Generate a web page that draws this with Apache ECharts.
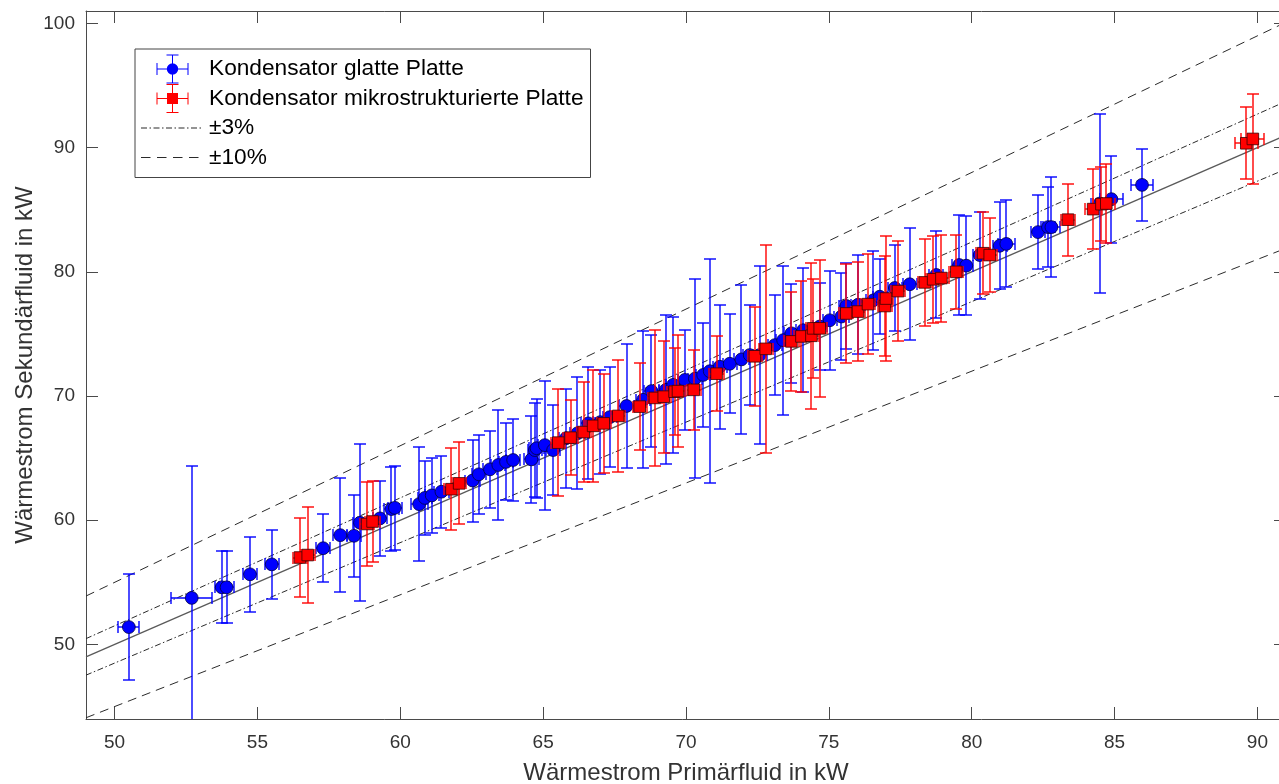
<!DOCTYPE html>
<html>
<head>
<meta charset="utf-8">
<title>Wärmestrom Primär- vs. Sekundärfluid</title>
<script src="https://cdn.jsdelivr.net/npm/echarts@6/dist/echarts.min.js"></script>
<style>
  html, body { margin: 0; padding: 0; background: #fff; }
  #chart { width: 1279px; height: 784px; }
</style>
</head>
<body>
<div id="chart"></div>
<script>
// Kondensator mit glatter Platte: Primär-/Sekundärwärmestrom (kW) und Messunsicherheiten
const glattX = [50.50, 52.70, 53.75, 53.92, 54.74, 55.50, 57.30, 57.90, 58.38, 58.59, 59.29, 59.69, 59.81, 60.66, 60.86, 61.10, 61.44, 62.53, 62.75, 63.14, 63.43, 63.70, 63.95, 64.59, 64.71, 64.77, 65.06, 65.35, 65.80, 66.20, 66.58, 67.00, 67.33, 67.92, 68.50, 68.79, 69.30, 69.55, 69.96, 70.31, 70.60, 70.83, 71.18, 71.53, 71.94, 72.23, 72.58, 73.11, 73.40, 73.69, 74.10, 74.68, 75.03, 75.44, 75.61, 76.02, 76.55, 76.78, 77.31, 77.83, 78.76, 79.56, 79.81, 80.28, 80.98, 81.21, 82.32, 82.67, 82.79, 84.48, 84.89, 85.96];
const glattY = [51.4, 53.75, 54.6, 54.6, 55.65, 56.45, 57.75, 58.8, 58.75, 59.8, 60.15, 60.9, 61.0, 61.3, 61.8, 62.0, 62.3, 63.2, 63.7, 64.1, 64.45, 64.7, 64.85, 64.9, 65.65, 65.8, 66.05, 65.65, 66.6, 67.0, 67.8, 67.9, 68.3, 69.2, 69.7, 70.4, 70.5, 70.9, 71.3, 71.4, 71.7, 72.0, 72.36, 72.6, 72.95, 73.3, 73.3, 74.1, 74.5, 75.05, 75.3, 75.6, 76.1, 76.4, 77.25, 77.35, 77.7, 78.0, 78.7, 79.0, 79.75, 80.55, 80.5, 81.35, 82.1, 82.25, 83.2, 83.6, 83.6, 85.5, 85.85, 87.0];
const glattYErr = [4.3, 10.6, 2.9, 2.9, 3.0, 2.75, 2.75, 4.6, 3.3, 6.3, 3.0, 3.4, 3.4, 4.6, 3.0, 3.0, 2.9, 3.3, 3.2, 3.1, 4.4, 3.1, 3.3, 3.5, 3.8, 4.0, 5.2, 3.6, 4.0, 4.5, 4.5, 4.2, 4.0, 5.0, 5.5, 4.5, 6.0, 5.5, 4.0, 8.0, 4.2, 9.0, 5.0, 4.0, 6.0, 4.0, 7.2, 4.0, 6.0, 4.0, 5.0, 3.5, 4.0, 3.5, 3.5, 4.0, 4.0, 3.0, 3.5, 4.5, 3.5, 4.0, 4.0, 3.5, 3.5, 3.5, 3.0, 3.2, 4.0, 7.2, 3.5, 2.9];
const glattXErr = [0.37, 0.72, 0.25, 0.25, 0.25, 0.25, 0.25, 0.25, 0.25, 0.25, 0.25, 0.25, 0.25, 0.3, 0.25, 0.25, 0.25, 0.25, 0.25, 0.25, 0.25, 0.25, 0.25, 0.25, 0.25, 0.25, 0.25, 0.25, 0.25, 0.25, 0.25, 0.25, 0.25, 0.25, 0.25, 0.25, 0.25, 0.25, 0.25, 0.25, 0.25, 0.25, 0.25, 0.25, 0.25, 0.25, 0.25, 0.25, 0.25, 0.25, 0.25, 0.25, 0.25, 0.25, 0.25, 0.25, 0.25, 0.25, 0.25, 0.25, 0.25, 0.25, 0.25, 0.25, 0.25, 0.3, 0.25, 0.25, 0.3, 0.3, 0.4, 0.4];

// Kondensator mit mikrostrukturierter Platte
const mikroX = [56.49, 56.76, 58.84, 59.03, 61.79, 62.06, 65.53, 65.96, 66.42, 66.75, 67.12, 67.63, 68.38, 68.91, 69.22, 69.60, 69.72, 70.27, 71.07, 72.41, 72.79, 73.69, 74.04, 74.39, 74.45, 74.68, 75.61, 76.02, 76.37, 76.96, 77.00, 77.42, 78.36, 78.65, 78.94, 79.46, 80.40, 80.63, 83.37, 84.25, 84.54, 84.71, 89.61, 89.84];
const mikroY = [57.0, 57.2, 59.7, 59.9, 62.5, 62.97, 66.25, 66.65, 67.1, 67.6, 67.8, 68.4, 69.15, 69.85, 69.95, 70.35, 70.4, 70.5, 71.8, 73.2, 73.8, 74.4, 74.8, 74.85, 75.45, 75.45, 76.65, 76.8, 77.4, 77.25, 77.85, 78.45, 79.15, 79.4, 79.5, 80.0, 81.5, 81.35, 84.2, 85.05, 85.45, 85.5, 90.35, 90.7];
const mikroYErr = [3.2, 3.9, 3.4, 3.3, 3.3, 3.3, 4.3, 3.0, 4.0, 4.5, 4.0, 4.5, 3.5, 5.5, 4.5, 3.5, 4.5, 3.2, 3.0, 4.0, 8.4, 4.0, 4.5, 5.9, 4.0, 5.5, 4.0, 4.0, 4.0, 4.0, 5.0, 4.0, 3.5, 3.5, 3.5, 3.0, 3.3, 3.0, 2.9, 3.2, 3.0, 3.2, 2.9, 3.6];
const mikroXErr = [0.25, 0.25, 0.25, 0.25, 0.25, 0.25, 0.25, 0.25, 0.25, 0.25, 0.25, 0.25, 0.25, 0.25, 0.25, 0.25, 0.25, 0.25, 0.25, 0.25, 0.25, 0.25, 0.25, 0.25, 0.25, 0.25, 0.25, 0.25, 0.25, 0.25, 0.25, 0.25, 0.25, 0.25, 0.25, 0.25, 0.25, 0.25, 0.26, 0.3, 0.3, 0.3, 0.4, 0.4];

// Achsen und Toleranzbänder
const xRange = [49, 91];
const yRange = [44, 101];
const xTicks = [50, 55, 60, 65, 70, 75, 80, 85, 90];
const yTicks = [50, 60, 70, 80, 90, 100];
const bandInner = 0.03;   // ±3 %
const bandOuter = 0.10;   // ±10 %

const nameGlatt = 'Kondensator glatte Platte';
const nameMikro = 'Kondensator mikrostrukturierte Platte';
const nameInner = '±3%';
const nameOuter = '±10%';

const FONT = '"Liberation Sans", Arial, Helvetica, sans-serif';
const AXIS_COLOR = '#4a4a4a';
const TEXT_COLOR = '#333333';
const REF_COLOR = '#2a2a2a';

function zip(xs, ys, exs, eys) {
  return xs.map((x, i) => [x, ys[i], exs[i], eys[i]]);
}

function refLine(factor) {
  return xRange.map(x => [x, x * factor]);
}

const px = v => Math.round(v);

// Fehlerbalken (x und y) mit Markierung je Messpunkt
function errorBars(lineColor, markerKind, fill, stroke) {
  return function (params, api) {
    const x = api.value(0), y = api.value(1), ex = api.value(2), ey = api.value(3);
    const c = api.coord([x, y]);
    const t = api.coord([x, y + ey]);
    const b = api.coord([x, y - ey]);
    const l = api.coord([x - ex, y]);
    const r = api.coord([x + ex, y]);
    const cap = 6;
    const cx = px(c[0]), cy = px(c[1]);
    const ty = px(t[1]), by = px(b[1]), lx = px(l[0]), rx = px(r[0]);
    const ls = { stroke: lineColor, lineWidth: 1.4 };
    const seg = (x1, y1, x2, y2) => ({ type: 'line', shape: { x1, y1, x2, y2 }, style: ls, z2: 1 });
    const children = [
      seg(cx, ty, cx, by),
      seg(cx - cap, ty, cx + cap, ty),
      seg(cx - cap, by, cx + cap, by),
      seg(lx, cy, rx, cy),
      seg(lx, cy - cap, lx, cy + cap),
      seg(rx, cy - cap, rx, cy + cap)
    ];
    if (markerKind === 'circle') {
      children.push({ type: 'circle', shape: { cx: c[0], cy: c[1], r: 6.4 },
        style: { fill, stroke, lineWidth: 0.8 }, z2: 10 });
    } else {
      children.push({ type: 'rect', shape: { x: c[0] - 5.8, y: c[1] - 5.8, width: 11.6, height: 11.6 },
        style: { fill, stroke, lineWidth: 0.8 }, z2: 10 });
    }
    return { type: 'group', children };
  };
}

// Legendensymbole (Feld 63 x 29): Fehlerkreuz mit Kreis bzw. Quadrat, Strichmuster der Bänder
const frame = 'M0 0 L0.01 0 Z M63 29 L62.99 29 Z ';
const cross = 'M31 0 H32 V29 H31 Z M25.5 0 H37.5 V1 H25.5 Z M25.5 28 H37.5 V29 H25.5 Z ' +
              'M15.5 14 H47.5 V15 H15.5 Z M15.5 8.5 H16.5 V20.5 H15.5 Z M46.5 8.5 H47.5 V20.5 H46.5 Z ';
const iconGlatt = 'path://' + frame + cross + 'M25.8 14.5 A5.7 5.7 0 1 1 37.2 14.5 A5.7 5.7 0 1 1 25.8 14.5 Z';
const iconMikro = 'path://' + frame + cross + 'M26 9 H37 V20 H26 Z';
const dashPath = segs => 'path://' + frame + segs.map(s => `M${s[0]} 14 H${s[1]} V15 H${s[0]} Z`).join(' ');
const iconInner = dashPath([[0, 6], [8.5, 10], [12.5, 18.5], [21, 22.5], [25, 31], [33.5, 35], [37.5, 43.5], [46, 47.5], [50, 56], [58.5, 60]]);
const iconOuter = dashPath([[0, 9.5], [16, 25.5], [32, 41.5], [48, 57.5]]);

const axisCommon = {
  type: 'value',
  splitLine: { show: false },
  axisLine: { show: true, onZero: false, lineStyle: { color: AXIS_COLOR, width: 1 } }
};

const option = {
  animation: false,
  backgroundColor: '#fff',
  textStyle: { fontFamily: FONT },
  grid: { left: 86, top: 11, right: -7, bottom: 65, containLabel: false, outerBoundsMode: 'none' },
  legend: {
    orient: 'vertical',
    left: 135,
    top: 49,
    padding: [5.5, 7, 5.5, 6],
    itemWidth: 63,
    itemHeight: 29,
    itemGap: 0.5,
    borderColor: '#444',
    borderWidth: 1,
    backgroundColor: '#fff',
    selectedMode: false,
    textStyle: { fontSize: 22.7, color: '#000', fontFamily: FONT },
    data: [
      { name: nameGlatt, icon: iconGlatt, itemStyle: { color: '#0000ff', borderWidth: 0 } },
      { name: nameMikro, icon: iconMikro, itemStyle: { color: '#ff0000', borderWidth: 0 } },
      { name: nameInner, icon: iconInner, itemStyle: { color: REF_COLOR, borderWidth: 0 } },
      { name: nameOuter, icon: iconOuter, itemStyle: { color: REF_COLOR, borderWidth: 0 } }
    ]
  },
  xAxis: [
    Object.assign({}, axisCommon, {
      min: xRange[0], max: xRange[1], position: 'bottom',
      axisTick: { show: true, inside: true, length: 12, customValues: xTicks, lineStyle: { color: AXIS_COLOR } },
      axisLabel: { show: true, customValues: xTicks, margin: 14, fontSize: 19, color: TEXT_COLOR, fontFamily: FONT },
      name: 'Wärmestrom Primärfluid in kW',
      nameLocation: 'middle',
      nameGap: 42,
      nameMoveOverlap: false,
      nameTextStyle: { fontSize: 24, color: TEXT_COLOR, fontFamily: FONT }
    }),
    Object.assign({}, axisCommon, {
      min: xRange[0], max: xRange[1], position: 'top',
      axisTick: { show: true, inside: true, length: 12, customValues: xTicks, lineStyle: { color: AXIS_COLOR } },
      axisLabel: { show: false }
    })
  ],
  yAxis: [
    Object.assign({}, axisCommon, {
      min: yRange[0], max: yRange[1], position: 'left',
      axisTick: { show: true, inside: true, length: 12, customValues: yTicks, lineStyle: { color: AXIS_COLOR } },
      axisLabel: { show: true, customValues: yTicks, margin: 11, fontSize: 19, color: TEXT_COLOR, fontFamily: FONT },
      name: 'Wärmestrom Sekundärfluid in kW',
      nameLocation: 'middle',
      nameGap: 49,
      nameMoveOverlap: false,
      nameTextStyle: { fontSize: 24, color: TEXT_COLOR, fontFamily: FONT }
    }),
    Object.assign({}, axisCommon, {
      min: yRange[0], max: yRange[1], position: 'right',
      axisTick: { show: true, inside: true, length: 12, customValues: yTicks, lineStyle: { color: AXIS_COLOR } },
      axisLabel: { show: false }
    })
  ],
  series: [
    { name: 'Ideal', type: 'line', data: refLine(1), symbol: 'none', clip: true, z: 1, silent: true,
      lineStyle: { color: '#5a5a5a', width: 1.3, type: 'solid' } },
    { name: nameInner, type: 'line', data: refLine(1 + bandInner), symbol: 'none', clip: true, z: 1, silent: true,
      itemStyle: { color: REF_COLOR },
      lineStyle: { color: REF_COLOR, width: 1, type: [6, 2.5, 1.5, 2.5] } },
    { name: nameInner, type: 'line', data: refLine(1 - bandInner), symbol: 'none', clip: true, z: 1, silent: true,
      itemStyle: { color: REF_COLOR },
      lineStyle: { color: REF_COLOR, width: 1, type: [6, 2.5, 1.5, 2.5] } },
    { name: nameOuter, type: 'line', data: refLine(1 + bandOuter), symbol: 'none', clip: true, z: 1, silent: true,
      itemStyle: { color: REF_COLOR },
      lineStyle: { color: REF_COLOR, width: 1, type: [9, 6] } },
    { name: nameOuter, type: 'line', data: refLine(1 - bandOuter), symbol: 'none', clip: true, z: 1, silent: true,
      itemStyle: { color: REF_COLOR },
      lineStyle: { color: REF_COLOR, width: 1, type: [9, 6] } },
    { name: nameGlatt, type: 'custom', clip: true, z: 2, silent: true,
      itemStyle: { color: '#0000ff' },
      encode: { x: 0, y: 1 },
      data: zip(glattX, glattY, glattXErr, glattYErr),
      renderItem: errorBars('#0000ff', 'circle', '#0000ff', '#000040') },
    { name: nameMikro, type: 'custom', clip: true, z: 3, silent: true,
      itemStyle: { color: '#ff0000' },
      encode: { x: 0, y: 1 },
      data: zip(mikroX, mikroY, mikroXErr, mikroYErr),
      renderItem: errorBars('#ff0000', 'rect', '#ff0000', '#3a0000') }
  ]
};

const chart = echarts.init(document.getElementById('chart'), null, { renderer: 'canvas' });
chart.setOption(option);
</script>
</body>
</html>
